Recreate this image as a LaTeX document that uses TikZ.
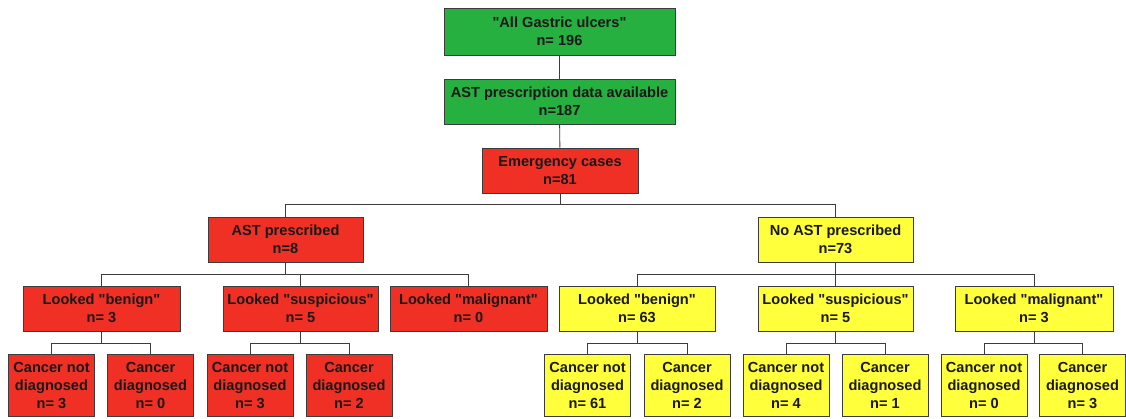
\documentclass[tikz,border=0pt]{standalone}
\usepackage{fontspec}
\setmainfont{Liberation Sans}[Ligatures=TeXOff]
\definecolor{boxgreen}{RGB}{38,176,64}
\definecolor{boxred}{RGB}{240,48,36}
\definecolor{boxyellow}{RGB}{255,255,60}
\definecolor{edge}{RGB}{60,60,60}
\tikzset{
  box/.style={draw=edge, line width=1pt, align=center, inner sep=0pt,
    font=\fontsize{14.6}{18}\selectfont\bfseries, text=black!90},
  gbox/.style={box, fill=boxgreen},
  rbox/.style={box, fill=boxred},
  ybox/.style={box, fill=boxyellow},
  mid/.style={minimum width=156pt, minimum height=45pt},
  leaf/.style={minimum width=86pt, minimum height=62pt},
  link/.style={draw=edge, line width=0.9pt}
}
\begin{document}
\begin{tikzpicture}[x=1pt, y=-1pt]
\useasboundingbox (0,0) rectangle (1126,418);
\fill[white] (0,0) rectangle (1126,418);
% top
\node[gbox, minimum width=231pt, minimum height=47pt] (top) at (559.5,31.5) {"All Gastric ulcers"\\n= 196};
\node[gbox, minimum width=231pt, minimum height=45pt] (avail) at (559.5,101.5) {AST prescription data available\\n=187};
\node[rbox, mid] (emerg) at (560,170.5) {Emergency cases\\n=81};
\node[rbox, mid, minimum width=155pt] (astp) at (285.5,239.5) {AST prescribed\\n=8};
\node[ybox, mid, minimum width=155pt] (noast) at (835.5,239.5) {No AST prescribed\\n=73};
% level 3 left
\node[rbox, mid, minimum width=157pt] (lb) at (101.5,308.5) {Looked "benign"\\n= 3};
\node[rbox, mid, minimum width=155pt] (ls) at (300.5,308.5) {Looked "suspicious"\\n= 5};
\node[rbox, mid, minimum width=157pt] (lm) at (468.5,308.5) {Looked "malignant"\\n= 0};
% level 3 right
\node[ybox, mid] (rb) at (637,308.5) {Looked "benign"\\n= 63};
\node[ybox, mid, minimum width=155pt] (rs) at (835.5,308.5) {Looked "suspicious"\\n= 5};
\node[ybox, mid, minimum width=158pt] (rm) at (1034,308.5) {Looked "malignant"\\n= 3};
% leaves left
\node[rbox, leaf] (l1) at (51.5,385) {Cancer not\\diagnosed\\n= 3};
\node[rbox, leaf] (l2) at (150.5,385) {Cancer\\diagnosed\\n= 0};
\node[rbox, leaf] (l3) at (250,385) {Cancer not\\diagnosed\\n= 3};
\node[rbox, leaf] (l4) at (349,385) {Cancer\\diagnosed\\n= 2};
% leaves right
\node[ybox, leaf] (r1) at (587.5,385) {Cancer not\\diagnosed\\n= 61};
\node[ybox, leaf] (r2) at (687,385) {Cancer\\diagnosed\\n= 2};
\node[ybox, leaf] (r3) at (786,385) {Cancer not\\diagnosed\\n= 4};
\node[ybox, leaf] (r4) at (885,385) {Cancer\\diagnosed\\n= 1};
\node[ybox, leaf] (r5) at (984,385) {Cancer not\\diagnosed\\n= 0};
\node[ybox, leaf] (r6) at (1082.5,385) {Cancer\\diagnosed\\n= 3};
% connectors
\draw[link] (top) -- (avail);
\draw[link] (avail) -- (emerg);
\draw[link] (emerg.south) -- ++(0,11) -| (astp.north);
\draw[link] (emerg.south) -- ++(0,11) -| (noast.north);
\foreach \p/\c in {astp/lb, astp/ls, astp/lm, noast/rb, noast/rs, noast/rm,
                   lb/l1, lb/l2, ls/l3, ls/l4, rb/r1, rb/r2, rs/r3, rs/r4, rm/r5, rm/r6}
  \draw[link] (\p.south) -- ++(0,12) -| (\c.north);
\end{tikzpicture}
\end{document}
